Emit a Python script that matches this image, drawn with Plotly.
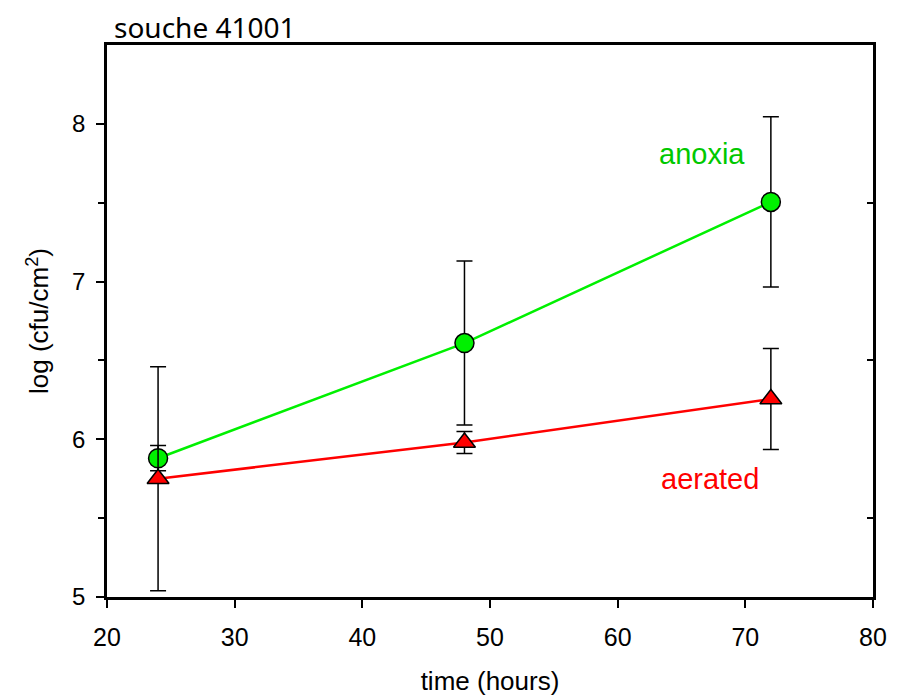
import plotly.graph_objects as go

time_h = [24, 48, 72]
anoxia = [5.88, 6.61, 7.505]
anoxia_err = [0.08, 0.52, 0.54]
aerated = [5.75, 5.98, 6.255]
aerated_err = [0.71, 0.07, 0.32]

# page body has an 8px margin, so the figure is sized/offset to compensate
W, H = 893, 689

fig = go.Figure()

fig.add_trace(
    go.Scatter(
        x=time_h,
        y=anoxia,
        mode="lines+markers",
        name="anoxia",
        line=dict(color="#00f000", width=2.5),
        marker=dict(symbol="circle", size=19, color="#00f000",
                    line=dict(color="black", width=1.5)),
        error_y=dict(type="data", array=anoxia_err, color="black",
                     thickness=1.5, width=8),
    )
)

# aerated on the right-hand overlay axis (same range) so that its ticks are drawn
fig.add_trace(
    go.Scatter(
        x=time_h,
        y=aerated,
        yaxis="y2",
        mode="lines+markers",
        name="aerated",
        line=dict(color="#ff0000", width=2.5),
        marker=dict(symbol="triangle-up", size=19, color="#ff0000",
                    line=dict(color="black", width=1.5)),
        error_y=dict(type="data", array=aerated_err, color="black",
                     thickness=1.5, width=8),
    )
)

# series labels
fig.add_annotation(x=63.1, y=7.81, text="anoxia", showarrow=False,
                   xanchor="left", yanchor="middle",
                   font=dict(family="Liberation Sans", size=29, color="#00c800"))
fig.add_annotation(x=63.2, y=5.75, text="aerated", showarrow=False,
                   xanchor="left", yanchor="middle",
                   font=dict(family="Liberation Sans", size=29, color="#ff0000"))

# chart title, sitting just above the frame on the left
fig.add_annotation(xref="paper", yref="paper", x=0.006, y=1.0326,
                   text="souche 41001", showarrow=False,
                   xanchor="left", yanchor="middle",
                   font=dict(family="Noto Sans", size=28, color="black"))

fig.update_layout(
    width=W,
    height=H,
    showlegend=False,
    plot_bgcolor="white",
    paper_bgcolor="white",
    margin=dict(l=99, r=28, t=37, b=100, autoexpand=False),
    font=dict(family="Liberation Sans", color="black"),
    xaxis=dict(
        range=[20, 80],
        tickvals=[20, 30, 40, 50, 60, 70, 80],
        ticks="outside",
        ticklen=8,
        tickwidth=2,
        tickcolor="black",
        ticklabelstandoff=8,
        showline=True,
        linecolor="black",
        linewidth=2.5,
        mirror=True,
        showgrid=False,
        zeroline=False,
        automargin=False,
        tickfont=dict(size=25),
        title=dict(text="time (hours)", font=dict(size=26), standoff=23),
    ),
    yaxis=dict(
        range=[5, 8.5],
        tickvals=[5, 6, 7, 8],
        ticks="outside",
        ticklen=8,
        tickwidth=2,
        tickcolor="black",
        ticklabelstandoff=6,
        minor=dict(tickvals=[5.5, 6.5, 7.5], ticks="outside", ticklen=6,
                   tickwidth=1.5, tickcolor="black"),
        showline=True,
        linecolor="black",
        linewidth=2.5,
        mirror=True,
        showgrid=False,
        zeroline=False,
        automargin=False,
        tickfont=dict(size=24),
        title=dict(text="log (cfu/cm<sup>2</sup>)", font=dict(size=26), standoff=16),
    ),
    yaxis2=dict(
        overlaying="y",
        side="right",
        range=[5, 8.5],
        tickvals=[5.5, 6.5, 7.5],
        ticks="inside",
        ticklen=6,
        tickwidth=1.5,
        tickcolor="black",
        showticklabels=False,
        showgrid=False,
        zeroline=False,
        automargin=False,
    ),
)

fig.write_html("out.html")
